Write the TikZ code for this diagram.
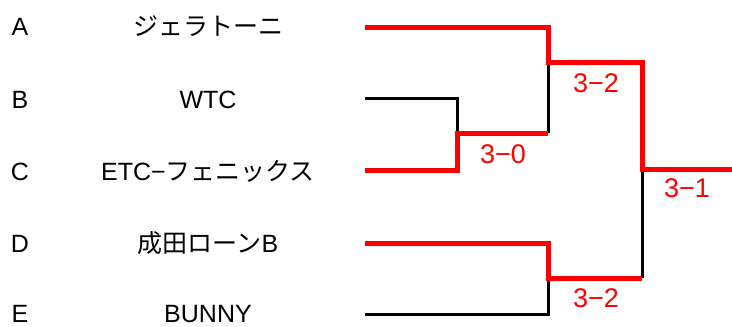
\documentclass[tikz,border=0pt]{standalone}
\usepackage{fontspec}
\setmainfont{Liberation Sans}
\newfontfamily\jpfont{Noto Sans CJK JP}
\begin{document}
\begin{tikzpicture}
      [ x=1pt, y=-1pt
      , team/.style={font=\fontsize{25}{30}\selectfont, anchor=base, inner sep=0pt}
      , score/.style={red, font=\fontsize{27}{30}\selectfont, anchor=base, inner sep=0pt}
      , lost/.style={black, draw, line width=3pt}
      , won/.style={red, draw, line width=5pt}
      ]
    \useasboundingbox (0,0) rectangle (732,327);

    \node[team] (lA) at (20,35) {A};
    \node[team] (lB) at (20,108) {B};
    \node[team] (lC) at (20,180) {C};
    \node[team] (lD) at (20,252) {D};
    \node[team] (lE) at (20,322) {E};

    \node[team] (A) at (208,35) {\jpfont ジェラトーニ};
    \node[team] (B) at (208,108) {WTC};
    \node[team] (C) at (208,180) {ETC−\jpfont フェニックス};
    \node[team] (D) at (208,252) {\jpfont 成田ローン\rmfamily B};
    \node[team] (E) at (208,322) {BUNNY};

    \coordinate (sA) at (365,27);
    \coordinate (sB) at (365,98);
    \coordinate (sC) at (365,170);
    \coordinate (sD) at (365,243);
    \coordinate (sE) at (365,314);
    \coordinate (BC) at (457,133);
    \coordinate (BCw) at (548,133);
    \coordinate (AC) at (548,62);
    \coordinate (DE) at (548,278);
    \coordinate (DEw) at (642,278);
    \coordinate (fin) at (642,169);
    \coordinate (champ) at (732,169);

    \draw[lost]
    (sB) -| (BC)
    (BCw) -- (AC)
    (sE) -| (DE)
    (DEw) -- (fin);

    \draw[won]
    (sA) -| (AC) -| (fin) -- (champ)
    (sC) -| (BC) -- (BCw)
    (sD) -| (DE) -- (DEw);

    \node[score] (s1) at (503,163) {3−0};
    \node[score] (s2) at (596,92) {3−2};
    \node[score] (s3) at (596,307) {3−2};
    \node[score] (s4) at (687,197) {3−1};
    \end{tikzpicture}
\end{document}
